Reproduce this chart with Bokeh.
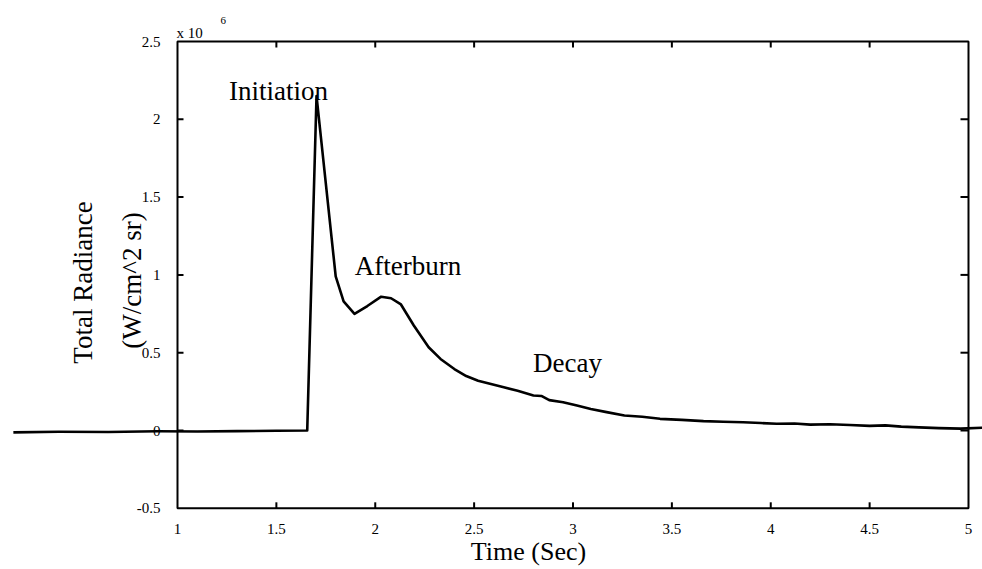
import math
from bokeh.plotting import figure
from bokeh.models import Range1d, ColumnDataSource
from bokeh.core.properties import value
from bokeh.embed import file_html
from bokeh.resources import INLINE

# ---- data (time in s, radiance in units of 1e6 W/cm^2 sr) ----
time_s = [0.17, 0.40, 0.65, 0.90, 1.10, 1.30, 1.50, 1.656, 1.703, 1.80, 1.84, 1.895,
          1.96, 2.03, 2.08, 2.13, 2.195, 2.27, 2.33, 2.40, 2.46, 2.52, 2.58, 2.65,
          2.72, 2.80, 2.84, 2.88, 2.95, 3.02, 3.09, 3.17, 3.26, 3.35, 3.44, 3.55,
          3.66, 3.76, 3.86, 3.95, 4.03, 4.12, 4.20, 4.30, 4.40, 4.50, 4.58, 4.66,
          4.75, 4.85, 4.96, 5.07]
radiance_e6 = [-0.012, -0.008, -0.010, -0.005, -0.006, -0.004, -0.002, 0.0, 2.15, 0.99, 0.83, 0.75,
               0.80, 0.86, 0.85, 0.81, 0.675, 0.535, 0.46, 0.395, 0.35, 0.32, 0.30, 0.278,
               0.255, 0.225, 0.222, 0.195, 0.182, 0.16, 0.138, 0.118, 0.096, 0.088, 0.075, 0.068,
               0.060, 0.056, 0.053, 0.048, 0.043, 0.045, 0.038, 0.040, 0.035, 0.030, 0.033, 0.025,
               0.020, 0.015, 0.012, 0.018]

x_limits = [1, 5]
y_limits = [-0.5, 2.5]
x_ticks = [1, 1.5, 2, 2.5, 3, 3.5, 4, 4.5, 5]
x_tick_labels = ["1", "1.5", "2", "2.5", "3", "3.5", "4", "4.5", "5"]
y_ticks = [-0.5, 0, 0.5, 1, 1.5, 2, 2.5]
y_tick_labels = ["-0.5", "0", "0.5", "1", "1.5", "2", "2.5"]
phase_labels = ["Initiation", "Afterburn", "Decay"]
x_title = "Time (Sec)"
y_title_lines = ["Total Radiance", "(W/cm^2 sr)"]
scale_text = "x 10"
scale_exp = "6"

# ---- figure geometry ----
W, H = 982, 569
x_start, x_end = 0.10493, 5.07080
y_start, y_end = -0.8933, 2.7635
px_x = (x_end - x_start) / W   # data units per pixel
px_y = (y_end - y_start) / H

FONT = value("Liberation Serif")

p = figure(width=W, height=H, output_backend="svg", toolbar_location=None,
           x_range=Range1d(x_start, x_end), y_range=Range1d(y_start, y_end),
           x_axis_location=None, y_axis_location=None, min_border=0,
           background_fill_color="white", border_fill_color="white")
p.outline_line_color = None
p.grid.visible = False

# plot box
p.quad(left=[x_limits[0]], right=[x_limits[1]], bottom=[y_limits[0]], top=[y_limits[1]],
       fill_color=None, line_color="black", line_width=2)

# inward ticks on all four sides
inner_x = [t for t in x_ticks if x_limits[0] < t < x_limits[1]]
inner_y = [t for t in y_ticks if y_limits[0] < t < y_limits[1]]
tl = 6
p.segment(x0=inner_x, x1=inner_x, y0=[y_limits[0]] * len(inner_x),
          y1=[y_limits[0] + tl * px_y] * len(inner_x), line_color="black", line_width=2)
p.segment(x0=inner_x, x1=inner_x, y0=[y_limits[1]] * len(inner_x),
          y1=[y_limits[1] - tl * px_y] * len(inner_x), line_color="black", line_width=2)
p.segment(x0=[x_limits[0]] * len(inner_y), x1=[x_limits[0] + tl * px_x] * len(inner_y),
          y0=inner_y, y1=inner_y, line_color="black", line_width=2)
p.segment(x0=[x_limits[1]] * len(inner_y), x1=[x_limits[1] - (tl + 2) * px_x] * len(inner_y),
          y0=inner_y, y1=inner_y, line_color="black", line_width=2)

# the curve
src = ColumnDataSource(dict(t=time_s, r=radiance_e6))
p.line("t", "r", source=src, line_color="black", line_width=2.6, line_join="round")

# tick labels
p.text(x=x_ticks, y=[y_limits[0] - 21 * px_y] * len(x_ticks), text=x_tick_labels,
       text_font=FONT, text_font_size="15px", text_align="center",
       text_baseline="alphabetic", text_color="black")
p.text(x=[x_limits[0] - 17 * px_x] * len(y_ticks), y=y_ticks, text=y_tick_labels,
       text_font=FONT, text_font_size="15px", text_align="right",
       text_baseline="middle", text_color="black")

# scale factor
p.text(x=[x_limits[0] - 1 * px_x], y=[y_limits[1] + 9 * px_y], text=[scale_text],
       text_font=FONT, text_font_size="15px", text_align="left",
       text_baseline="alphabetic", text_color="black")
p.text(x=[x_limits[0] + 43 * px_x], y=[y_limits[1] + 21 * px_y], text=[scale_exp],
       text_font=FONT, text_font_size="11px", text_align="left",
       text_baseline="alphabetic", text_color="black")

# phase annotations
p.text(x=[1.511, 2.166, 2.972], y=[2.179, 1.060, 0.437], text=phase_labels,
       text_font=FONT, text_font_size="27px", text_align="center",
       text_baseline="alphabetic", text_color="black")

# axis titles
p.text(x=[2.775], y=[y_limits[0] - 43 * px_y], text=[x_title],
       text_font=FONT, text_font_size="26px", text_align="center",
       text_baseline="alphabetic", text_color="black")
p.text(x=[0.5196, 0.7724], y=[0.951, 0.964], text=y_title_lines, angle=math.pi / 2,
       text_font=FONT, text_font_size="27px", text_align="center",
       text_baseline="alphabetic", text_color="black")

open("out.html", "w").write(file_html(p, INLINE))
